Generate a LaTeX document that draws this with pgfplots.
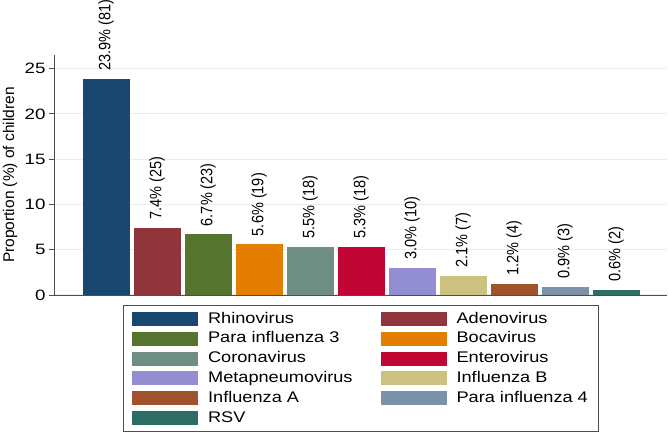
\documentclass[border=0pt]{standalone}
\usepackage{fontspec}
\usepackage{pgfplots}
\pgfplotsset{compat=1.18}
\setmainfont{Liberation Sans}
\newfontfamily\tickfont{Liberation Sans}[FakeStretch=1.25]
\newfontfamily\legfont{Liberation Sans}[FakeStretch=1.18]
\newfontfamily\barfont{Liberation Sans}[FakeStretch=0.88]

\definecolor{c1}{HTML}{1A476F}
\definecolor{c2}{HTML}{90353B}
\definecolor{c3}{HTML}{55752F}
\definecolor{c4}{HTML}{E37E00}
\definecolor{c5}{HTML}{6E8E84}
\definecolor{c6}{HTML}{C10534}
\definecolor{c7}{HTML}{938DD2}
\definecolor{c8}{HTML}{CAC27E}
\definecolor{c9}{HTML}{A0522D}
\definecolor{c10}{HTML}{7B92A8}
\definecolor{c11}{HTML}{2D6D66}
\definecolor{gridc}{HTML}{E6EEF1}
\definecolor{axc}{HTML}{4D4D4D}

\pgfplotsset{
  vbar/.style={ybar, bar width=47pt, bar shift=0pt, draw=none, fill=#1,
    legend image code/.code={\fill[##1] (0pt,-7pt) rectangle (66pt,7pt);}},
}

\begin{document}
\begin{tikzpicture}
\begin{axis}[
    name=ax,
    scale only axis,
    width=612pt, height=240pt,
    xmin=-1, xmax=11,
    ymin=0, ymax=26.5,
    axis x line*=bottom,
    axis y line*=left,
    axis line style={axc, line width=1pt},
    xtick=\empty,
    ytick={0,5,...,25},
    tick align=outside,
    major tick length=6pt,
    ytick style={axc, line width=0.8pt},
    ymajorgrids,
    grid style={gridc, line width=1.2pt},
    /pgf/number format/assume math mode=true,
    yticklabel style={font=\tickfont\fontsize{15}{18}\selectfont, text=black},
    ylabel={Proportion (\%) of children},
    ylabel style={at={(axis description cs:-0.0735,0.5)}, anchor=center,
      font=\fontsize{15.5}{18}\selectfont},
    clip=false,
    point meta=explicit symbolic,
    nodes near coords,
    every node near coord/.style={rotate=90, anchor=west, inner xsep=8pt,
      inner ysep=0pt, font=\barfont\fontsize{16.5}{18}\selectfont, text=black},
    legend columns=2,
    legend cell align=left,
    legend style={
      at={(axis description cs:0.5,-0.0417)}, anchor=north,
      draw=axc, line width=1pt, inner xsep=9pt, inner ysep=4.5pt,
      font=\legfont\fontsize{15.4}{18}\selectfont,
      row sep=1.8pt,
      nodes={inner sep=2pt, text height=11pt, text depth=3pt},
      /tikz/column 1/.style={column sep=8pt},
      /tikz/column 2/.style={column sep=26pt},
      /tikz/column 3/.style={column sep=8pt},
    },
]
\addplot[vbar=c1]  coordinates {(0,23.9) [23.9\% (81)]};
\addplot[vbar=c2]  coordinates {(1,7.4) [7.4\% (25)]};
\addplot[vbar=c3]  coordinates {(2,6.7) [6.7\% (23)]};
\addplot[vbar=c4]  coordinates {(3,5.6) [5.6\% (19)]};
\addplot[vbar=c5]  coordinates {(4,5.3) [5.5\% (18)]};
\addplot[vbar=c6]  coordinates {(5,5.3) [5.3\% (18)]};
\addplot[vbar=c7]  coordinates {(6,3.0) [3.0\% (10)]};
\addplot[vbar=c8]  coordinates {(7,2.1) [2.1\% (7)]};
\addplot[vbar=c9]  coordinates {(8,1.2) [1.2\% (4)]};
\addplot[vbar=c10] coordinates {(9,0.9) [0.9\% (3)]};
\addplot[vbar=c11] coordinates {(10,0.6) [0.6\% (2)]};
\legend{Rhinovirus, Adenovirus, Para influenza 3, Bocavirus, Coronavirus,
  Enterovirus, Metapneumovirus, Influenza B, Influenza A, Para influenza 4, RSV}
\end{axis}
\pgfresetboundingbox
\path (ax.south west) ++(-55pt,-139pt) rectangle ++(668pt,434pt);
\end{tikzpicture}
\end{document}
